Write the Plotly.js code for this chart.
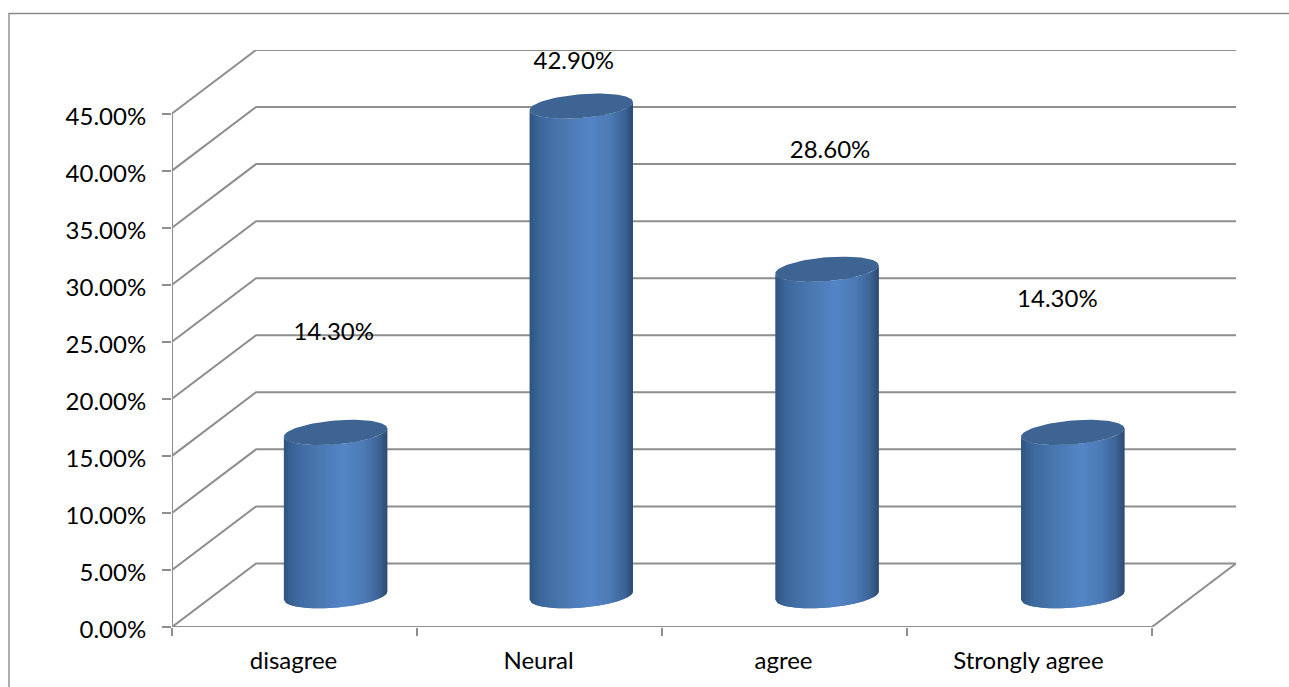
<!DOCTYPE html>
<html>
<head>
<meta charset="utf-8">
<script src="https://cdn.plot.ly/plotly-3.0.1.min.js"></script>
<style>
html, body { margin: 0; padding: 0; background: #fff; overflow: hidden; }
#chart { width: 1289px; height: 687px; }
</style>
</head>
<body>
<div id="chart"></div>
<script>
// Survey responses, in percent
const categories = ['disagree', 'Neural', 'agree', 'Strongly agree'];
const shares = [14.3, 42.9, 28.6, 14.3];
const yTicks = [0, 5, 10, 15, 20, 25, 30, 35, 40, 45];

// Hand-placed data labels: category-axis position and height in percent
const labelX = [0.66, 1.64, 2.686, 3.614];
const labelY = [25.65, 49.45, 41.65, 28.6];

// Oblique projection of the chart box, in axis units
const depthX = 0.343;
const depthY = 5.57;
const baseShift = 2.75;     // height of a cylinder's base above the floor's front edge
const centreShift = 0.172;  // sideways shift of a cylinder from its category centre
const radiusX = 0.211;
const capB = 1.05;
const capC = 0.36;

const GRID = '#8e8e8e';
const FONT = 'Lato, sans-serif';
const TEXT_SIZE = 24;
const WIDTH = 1289, HEIGHT = 687;
const margin = { l: 172, r: 53, t: 50, b: 60, pad: 0 };
const xRange = [0, categories.length + depthX];
const yRange = [0, 45 + depthY];

const traces = [];

// Side wall, back wall and floor lines
const gx = [], gy = [];
yTicks.forEach(v => {
  gx.push(0, depthX, categories.length + depthX, null);
  gy.push(v, v + depthY, v + depthY, null);
});
gx.push(categories.length, categories.length + depthX);
gy.push(0, depthY);
traces.push({
  type: 'scatter', mode: 'lines', x: gx, y: gy, hoverinfo: 'skip', cliponaxis: false,
  line: { color: GRID, width: 2 }
});

// Value axis line and category axis line
traces.push({
  type: 'scatter', mode: 'lines', xaxis: 'x2',
  x: [0, 0, categories.length], y: [45, 0, 0], hoverinfo: 'skip', cliponaxis: false,
  line: { color: GRID, width: 2 }
});

// Horizontal shading across the cylinder wall
const shadeStops = [
  [0.00, [48, 84, 128]],
  [0.10, [60, 103, 155]],
  [0.30, [72, 118, 174]],
  [0.58, [84, 133, 198]],
  [0.78, [76, 122, 180]],
  [0.92, [60, 100, 150]],
  [1.00, [46, 74, 112]]
];
function shade(f) {
  for (let i = 1; i < shadeStops.length; i++) {
    if (f <= shadeStops[i][0]) {
      const [f0, c0] = shadeStops[i - 1], [f1, c1] = shadeStops[i];
      const k = (f - f0) / (f1 - f0);
      return 'rgb(' + c0.map((c, j) => Math.round(c + (c1[j] - c) * k)).join(',') + ')';
    }
  }
  return 'rgb(46,74,112)';
}

// Lower arc of the tilted ellipse at horizontal fraction u in [-1, 1]
const arc = u => capC * u - capB * Math.sqrt(Math.max(0, 1 - u * u));

const STRIPS = 52;
shares.forEach((value, i) => {
  const cx = i + 0.5 + centreShift + (i - 1.5) * 0.003;
  const base = baseShift;
  const top = base + value;

  // Wall, painted left to right as overlapping strips
  for (let s = 0; s < STRIPS; s++) {
    const u0 = -1 + 2 * s / STRIPS;
    const u1 = Math.min(1, -1 + 2 * (s + 2) / STRIPS);
    const xs = [], ys = [];
    for (let k = 0; k <= 4; k++) {
      const u = u0 + (u1 - u0) * k / 4;
      xs.push(cx + radiusX * u);
      ys.push(base + arc(u));
    }
    for (let k = 4; k >= 0; k--) {
      const u = u0 + (u1 - u0) * k / 4;
      xs.push(cx + radiusX * u);
      ys.push(top + arc(u));
    }
    traces.push({
      type: 'scatter', mode: 'lines', x: xs, y: ys, fill: 'toself',
      fillcolor: shade((s + 0.5) / STRIPS), line: { width: 0 },
      hoverinfo: 'skip', cliponaxis: false
    });
  }

  // Top cap
  const capX = [], capY = [];
  for (let k = 0; k <= 96; k++) {
    const t = 2 * Math.PI * k / 96;
    capX.push(cx + radiusX * Math.cos(t));
    capY.push(top + capC * Math.cos(t) + capB * Math.sin(t));
  }
  traces.push({
    type: 'scatter', mode: 'lines', x: capX, y: capY, fill: 'toself',
    fillcolor: '#3d6493', line: { width: 0 }, hoverinfo: 'skip', cliponaxis: false
  });
});

// Data labels
traces.push({
  type: 'scatter', mode: 'text', x: labelX, y: labelY,
  text: shares.map(v => v.toFixed(2) + '%'), textposition: 'middle center',
  textfont: { family: FONT, size: TEXT_SIZE, color: '#000' },
  hoverinfo: 'skip', cliponaxis: false
});

// Outer frame, open on the right and at the bottom
const plotW = WIDTH - margin.l - margin.r;
const plotH = HEIGHT - margin.t - margin.b;
const paperX = px => (px - margin.l) / plotW;
const paperY = py => 1 - (py - margin.t) / plotH;

const layout = {
  width: WIDTH, height: HEIGHT, margin, showlegend: false,
  paper_bgcolor: '#fff', plot_bgcolor: 'rgba(0,0,0,0)',
  hovermode: false,
  xaxis: {
    range: xRange, fixedrange: true, showgrid: false, zeroline: false, showline: false,
    tickmode: 'array', tickvals: categories.map((_, i) => i + 0.5), ticktext: categories,
    ticks: '', ticklabelstandoff: 17, ticklabelshift: -1,
    tickfont: { family: FONT, size: TEXT_SIZE, color: '#000' }
  },
  xaxis2: {
    range: xRange, fixedrange: true, overlaying: 'x', side: 'bottom',
    showgrid: false, zeroline: false, showline: false,
    tickmode: 'array', tickvals: categories.map((_, i) => i).concat(categories.length),
    ticktext: categories.map(() => '').concat(''),
    ticks: 'outside', ticklen: 8, tickwidth: 2, tickcolor: GRID
  },
  yaxis: {
    range: yRange, fixedrange: true, showgrid: false, zeroline: false, showline: false,
    tickmode: 'array', tickvals: yTicks, ticktext: yTicks.map(v => v.toFixed(2) + '%'),
    ticks: 'outside', ticklen: 9, tickwidth: 2, tickcolor: GRID,
    ticklabelstandoff: 11, ticklabelshift: 3,
    tickfont: { family: FONT, size: TEXT_SIZE, color: '#000' }
  },
  shapes: [{
    type: 'path', xref: 'paper', yref: 'paper', layer: 'below',
    path: `M ${paperX(9)} ${paperY(688)} L ${paperX(9)} ${paperY(13.5)} L ${paperX(1290)} ${paperY(13.5)}`,
    line: { color: '#8a8a8a', width: 1.4 }
  }]
};

Plotly.newPlot('chart', traces, layout, { displayModeBar: false, responsive: false, staticPlot: true });
</script>
</body>
</html>
